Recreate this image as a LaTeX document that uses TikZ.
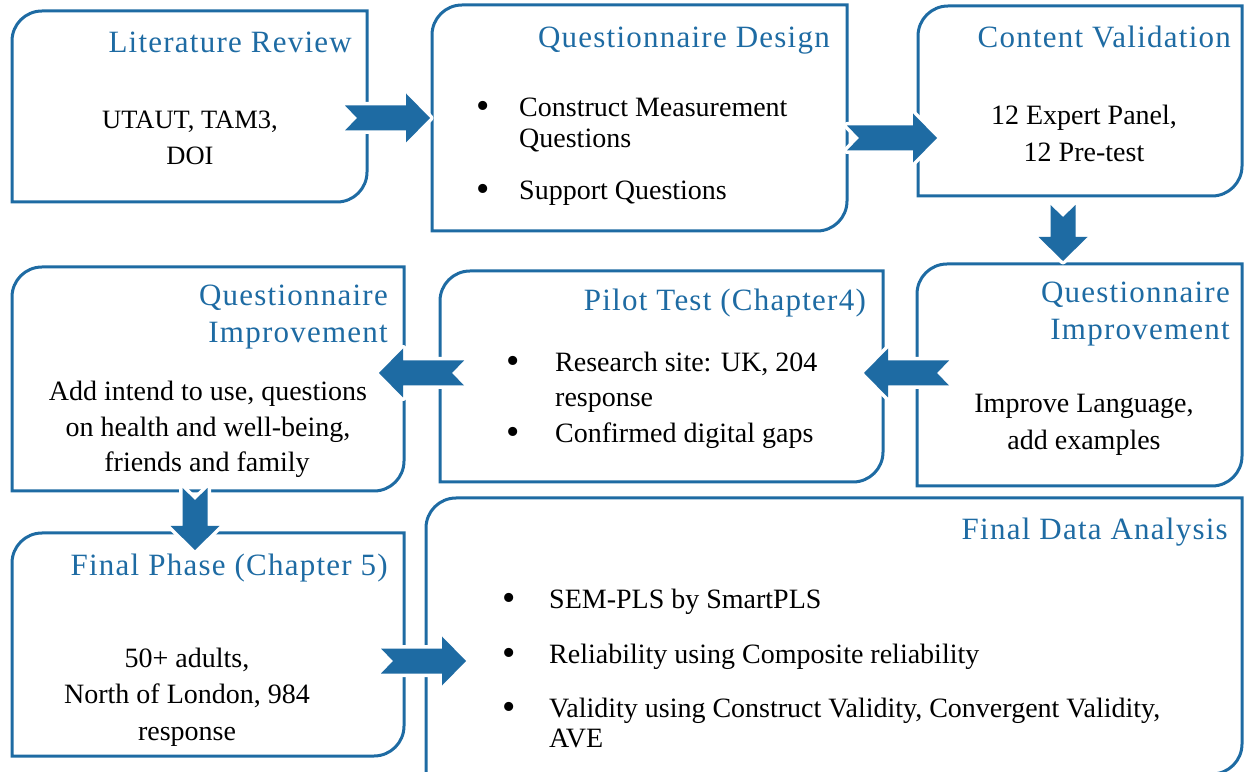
\documentclass[tikz,border=0pt]{standalone}
\usepackage{fontspec}
\setmainfont{Liberation Serif}
\newfontfamily\headfont[LetterSpace=4]{Liberation Serif}
\usetikzlibrary{calc}
\definecolor{flowblue}{RGB}{30,107,163}

\tikzset{
  x=1pt, y=1pt,
  boxframe/.style={rectangle, draw=none, inner sep=0pt, outer sep=0pt},
  boxline/.style={draw=flowblue, line width=3pt, line join=miter},
  head/.style={inner sep=0pt, text=flowblue, font=\headfont\fontsize{31}{37}\selectfont},
  body/.style={inner sep=0pt, text=black, font=\fontsize{28}{37}\selectfont},
  smallbody/.style={inner sep=0pt, text=black, font=\fontsize{26.5}{36}\selectfont},
  dot/.style={inner sep=0pt, text=black, font=\fontsize{38}{37}\selectfont},
  pics/barrow/.style={code={
    \fill[flowblue, preaction={draw=white, line width=7pt, line join=round}]
      (0,-12.5) -- (#1-24,-12.5) -- (#1-24,-24.5) -- (#1,0) -- (#1-24,24.5)
      -- (#1-24,12.5) -- (0,12.5) -- (12,0) -- cycle;
  }}
}

% frame with rounded top-left and bottom-right corners
\newcommand\diagframe[1]{%
  \draw[boxline] (#1.north east) -- ($(#1.south east)+(0,30)$)
    arc[start angle=0, end angle=-90, radius=30pt] -- (#1.south west)
    -- ($(#1.north west)+(0,-30)$)
    arc[start angle=180, end angle=90, radius=30pt] -- cycle;}

\begin{document}
\begin{tikzpicture}
\useasboundingbox (0,0) rectangle (1244,771);
\clip (0,0) rectangle (1244,771);

% boxes
\node[boxframe, minimum width=355pt, minimum height=191pt] (b1) at (189.5,664.5) {};
\node[boxframe, minimum width=415pt, minimum height=226pt] (b2) at (639.5,653) {};
\node[boxframe, minimum width=324pt, minimum height=190pt] (b3) at (1080,670) {};
\node[boxframe, minimum width=325pt, minimum height=222pt] (b4) at (1079.5,396) {};
\node[boxframe, minimum width=443pt, minimum height=211pt] (b5) at (661.5,394.5) {};
\node[boxframe, minimum width=392pt, minimum height=224pt] (b6) at (208,392) {};
\node[boxframe, minimum width=392pt, minimum height=223pt] (b7) at (208,126.5) {};
\node[boxframe, minimum width=816pt, minimum height=276pt] (b8) at (834,135) {};
\foreach \b in {b1,b2,b3,b4,b5,b6,b7,b8} {\diagframe{\b}}

% Literature Review
\node[head, anchor=base east] (t1) at (352,718) {Literature Review};
\node[smallbody, anchor=base] (l1a) at (190,642) {UTAUT, TAM3,};
\node[smallbody, anchor=base] (l1b) at (190,606) {DOI};

% Questionnaire Design
\node[head, anchor=base east] (t2) at (830,723) {Questionnaire Design};
\node[dot, anchor=base] (d2a) at (483,652) {•};
\node[body, anchor=base west] (l2a) at (519,654) {Construct Measurement};
\node[body, anchor=base west] (l2b) at (519,623) {Questions};
\node[dot, anchor=base] (d2b) at (483,569) {•};
\node[body, anchor=base west] (l2c) at (519,571) {Support Questions};

% Content Validation
\node[head, anchor=base east] (t3) at (1231,723) {Content Validation};
\node[body, anchor=base] (l3a) at (1084,646) {12 Expert Panel,};
\node[body, anchor=base] (l3b) at (1084,609) {12 Pre-test};

% Questionnaire Improvement (right)
\node[head, anchor=base east] (t4a) at (1230,468) {Questionnaire};
\node[head, anchor=base east] (t4b) at (1230,431) {Improvement};
\node[body, anchor=base] (l4a) at (1084,358) {Improve Language,};
\node[body, anchor=base] (l4b) at (1084,321) {add examples};

% Pilot Test
\node[head, anchor=base east] (t5) at (866,460) {Pilot Test (Chapter4)};
\node[dot, anchor=base] (d5a) at (513,397) {•};
\node[body, anchor=base west] (l5a) at (555,399) {Research site: UK, 204};
\node[body, anchor=base west] (l5b) at (555,364) {response};
\node[dot, anchor=base] (d5b) at (513,326) {•};
\node[body, anchor=base west] (l5c) at (555,328) {Confirmed digital gaps};

% Questionnaire Improvement (left)
\node[head, anchor=base east] (t6a) at (388,465) {Questionnaire};
\node[head, anchor=base east] (t6b) at (388,428) {Improvement};
\node[body, anchor=base] (l6a) at (208,370) {Add intend to use, questions};
\node[body, anchor=base] (l6b) at (208,334) {on health and well-being,};
\node[body, anchor=base] (l6c) at (207,299) {friends and family};

% Final Phase
\node[head, anchor=base east] (t7) at (388,195) {Final Phase (Chapter 5)};
\node[body, anchor=base] (l7a) at (187,103) {50+ adults,};
\node[body, anchor=base] (l7b) at (187,68) {North of London, 984};
\node[body, anchor=base] (l7c) at (187,31) {response};

% Final Data Analysis
\node[head, anchor=base east] (t8) at (1228,231) {Final Data Analysis};
\node[dot, anchor=base] (d8a) at (509,160) {•};
\node[body, anchor=base west] (l8a) at (549,162) {SEM-PLS by SmartPLS};
\node[dot, anchor=base] (d8b) at (509,106) {•};
\node[body, anchor=base west] (l8b) at (549,108) {Reliability using Composite reliability};
\node[dot, anchor=base] (d8c) at (509,52) {•};
\node[body, anchor=base west] (l8c) at (549,54) {Validity using Construct Validity, Convergent Validity,};
\node[body, anchor=base west] (l8d) at (549,24) {AVE};

% block arrows between the stages
\coordinate (a12) at (345,653);
\coordinate (a23) at (847,633);
\coordinate (a34) at (1063,566);
\coordinate (a45) at (949,398);
\coordinate (a56) at (464,398);
\coordinate (a67) at (195,283);
\coordinate (a78) at (381,110);
\pic at (a12) {barrow=85};
\pic at (a23) {barrow=90};
\pic[rotate=-90] at (a34) {barrow=56};
\pic[rotate=180] at (a45) {barrow=85};
\pic[rotate=180] at (a56) {barrow=85};
\pic[rotate=-90] at (a67) {barrow=62};
\pic at (a78) {barrow=85};
\end{tikzpicture}
\end{document}
